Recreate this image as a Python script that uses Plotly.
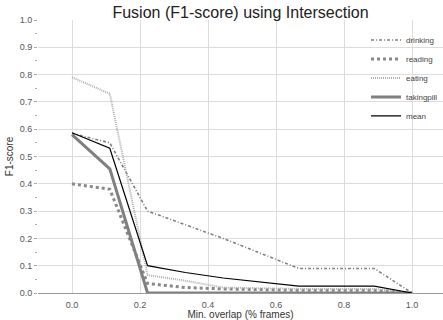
import plotly.graph_objects as go

overlap = [0.0, 1/9, 2/9, 3/9, 4/9, 5/9, 6/9, 7/9, 8/9, 1.0]
drinking = [0.585, 0.55, 0.30, 0.25, 0.20, 0.145, 0.09, 0.09, 0.09, 0.0]
reading = [0.40, 0.38, 0.035, 0.02, 0.015, 0.012, 0.01, 0.01, 0.01, 0.0]
eating = [0.79, 0.73, 0.066, 0.045, 0.02, 0.017, 0.015, 0.015, 0.015, 0.0]
takingpill = [0.58, 0.455, 0.0, 0.0, 0.0, 0.0, 0.0, 0.0, 0.0, 0.0]
mean = [0.587, 0.53, 0.10, 0.075, 0.055, 0.04, 0.025, 0.025, 0.025, 0.0]

series = [
    ("drinking", drinking, dict(color="#808080", width=1.6, dash="3px,2px,1px,2px")),
    ("reading", reading, dict(color="#888888", width=3, dash="3px,3px")),
    ("eating", eating, dict(color="#b0b0b0", width=2, dash="1px,1px")),
    ("takingpill", takingpill, dict(color="#808080", width=3)),
    ("mean", mean, dict(color="#000000", width=1.2)),
]

fig = go.Figure()
for name, ys, line in series:
    fig.add_trace(go.Scatter(x=overlap, y=ys, mode="lines", name=name, line=line))

fig.update_layout(
    width=443, height=320,
    margin=dict(l=38, r=0, t=20, b=27),
    paper_bgcolor="white", plot_bgcolor="white",
    font=dict(family="Liberation Sans, Arial, sans-serif", color="#333333"),
    title=dict(text="Fusion (F1-score) using Intersection", x=0.5, xref="paper", xanchor="center",
               y=0.96, yanchor="middle", font=dict(size=16, color="#222222")),
    showlegend=True,
    legend=dict(x=1.0, y=0.98, xanchor="right", yanchor="top", bgcolor="rgba(0,0,0,0)",
                font=dict(size=8, color="#444444"), tracegroupgap=0, itemwidth=30),
    xaxis=dict(range=[-0.1, 1.091], tickvals=[0.0, 0.2, 0.4, 0.6, 0.8, 1.0],
               tickformat=".1f", showgrid=True, gridcolor="#dcdcdc", gridwidth=1,
               zeroline=False, showline=True, linecolor="#999999",
               ticks="outside", ticklen=3, tickcolor="rgba(0,0,0,0)",
               tickfont=dict(size=9, color="#555555"),
               title=dict(text="Min. overlap (% frames)", font=dict(size=10, color="#333333"), standoff=2)),
    yaxis=dict(range=[0, 1.0], dtick=0.1, tickformat=".1f", showgrid=True,
               gridcolor="#dcdcdc", gridwidth=1, zeroline=False,
               ticks="outside", ticklen=3, tickcolor="#aaaaaa",
               minor=dict(dtick=0.05, ticks="outside", ticklen=2, tickcolor="#aaaaaa", showgrid=False),
               tickfont=dict(size=9, color="#555555"),
               title=dict(text="F1-score", font=dict(size=10, color="#333333"), standoff=4)),
)

fig.write_html("out.html")
